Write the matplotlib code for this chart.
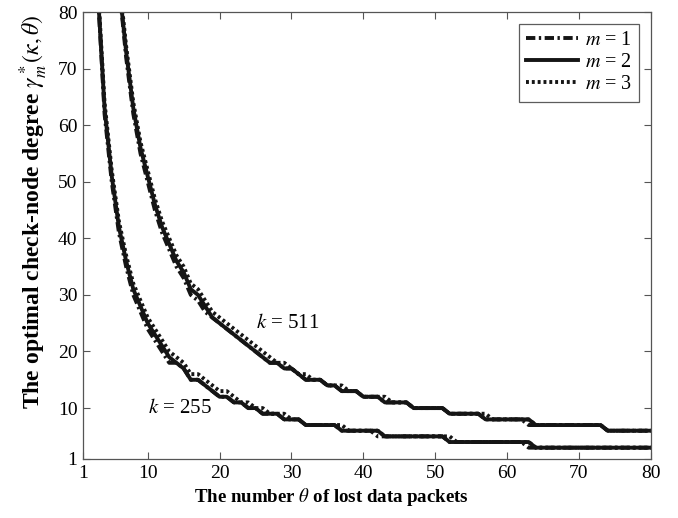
import matplotlib
matplotlib.use("Agg")
import matplotlib.pyplot as plt

plt.rcParams['font.family'] = ['Liberation Serif', 'DejaVu Serif']
plt.rcParams['mathtext.fontset'] = 'stix'

# number of lost packets
theta = list(range(1, 81))

# k = 255
g255_m1 = [255, 127, 85, 62, 50, 41, 35, 30, 27, 24,
           22, 20, 18, 18, 17, 15, 15, 14, 13, 12,
           12, 11, 11, 10, 10, 9, 9, 9, 8, 8,
           8, 7, 7, 7, 7, 7, 6, 6, 6, 6,
           6, 5, 5, 5, 5, 5, 5, 5, 5, 5,
           5, 4, 4, 4, 4, 4, 4, 4, 4, 4,
           4, 4, 3, 3, 3, 3, 3, 3, 3, 3,
           3, 3, 3, 3, 3, 3, 3, 3, 3, 3]
g255_m2 = [255, 127, 85, 63, 51, 42, 36, 31, 28, 25,
           23, 21, 19, 18, 17, 15, 15, 14, 13, 12,
           12, 11, 11, 10, 10, 9, 9, 9, 8, 8,
           8, 7, 7, 7, 7, 7, 6, 6, 6, 6,
           6, 6, 5, 5, 5, 5, 5, 5, 5, 5,
           5, 4, 4, 4, 4, 4, 4, 4, 4, 4,
           4, 4, 4, 3, 3, 3, 3, 3, 3, 3,
           3, 3, 3, 3, 3, 3, 3, 3, 3, 3]
g255_m3 = [255, 128, 86, 64, 52, 43, 37, 32, 29, 26,
           24, 22, 20, 19, 18, 16, 16, 15, 14, 13,
           13, 12, 11, 11, 10, 10, 9, 9, 9, 8,
           8, 7, 7, 7, 7, 7, 7, 6, 6, 6,
           6, 6, 5, 5, 5, 5, 5, 5, 5, 5,
           5, 5, 4, 4, 4, 4, 4, 4, 4, 4,
           4, 4, 4, 3, 3, 3, 3, 3, 3, 3,
           3, 3, 3, 3, 3, 3, 3, 3, 3, 3]

# k = 511
g511_m1 = [511, 255, 170, 127, 102, 85, 72, 62, 55, 50,
           45, 41, 38, 35, 33, 30, 29, 27, 26, 25,
           24, 23, 22, 21, 20, 19, 18, 18, 17, 17,
           16, 15, 15, 15, 14, 14, 13, 13, 13, 12,
           12, 12, 11, 11, 11, 11, 10, 10, 10, 10,
           10, 9, 9, 9, 9, 9, 8, 8, 8, 8,
           8, 8, 7, 7, 7, 7, 7, 7, 7, 7,
           7, 7, 7, 6, 6, 6, 6, 6, 6, 6]
g511_m2 = [511, 255, 170, 127, 102, 85, 73, 63, 56, 51,
           46, 42, 39, 36, 34, 31, 30, 28, 26, 25,
           24, 23, 22, 21, 20, 19, 18, 18, 17, 17,
           16, 15, 15, 15, 14, 14, 13, 13, 13, 12,
           12, 12, 11, 11, 11, 11, 10, 10, 10, 10,
           10, 9, 9, 9, 9, 9, 8, 8, 8, 8,
           8, 8, 8, 7, 7, 7, 7, 7, 7, 7,
           7, 7, 7, 6, 6, 6, 6, 6, 6, 6]
g511_m3 = [511, 256, 171, 128, 103, 86, 74, 64, 57, 52,
           47, 43, 40, 37, 35, 32, 31, 29, 27, 26,
           25, 24, 23, 22, 21, 20, 19, 18, 18, 17,
           16, 16, 15, 15, 14, 14, 14, 13, 13, 12,
           12, 12, 12, 11, 11, 11, 10, 10, 10, 10,
           10, 9, 9, 9, 9, 9, 9, 8, 8, 8,
           8, 8, 8, 7, 7, 7, 7, 7, 7, 7,
           7, 7, 7, 6, 6, 6, 6, 6, 6, 6]

styles = {'m1': (0, (2.4, 0.9, 0.6, 0.9)), 'm2': '-', 'm3': (0, (0.75, 0.75))}
lw = 2.8
ink = '#151515'

fig = plt.figure(figsize=(6.78, 5.18), dpi=100)
ax = fig.add_axes([0.1224, 0.1139, 0.8376, 0.8629])

ax.plot(theta, g255_m1, color=ink, lw=lw, ls=styles['m1'], label='$m$ = 1')
ax.plot(theta, g255_m2, color=ink, lw=lw, ls=styles['m2'], label='$m$ = 2')
ax.plot(theta, g255_m3, color=ink, lw=lw, ls=styles['m3'], label='$m$ = 3')
ax.plot(theta, g511_m1, color=ink, lw=lw, ls=styles['m1'])
ax.plot(theta, g511_m2, color=ink, lw=lw, ls=styles['m2'])
ax.plot(theta, g511_m3, color=ink, lw=lw, ls=styles['m3'])

ax.text(25, 25, '$k$ = 511', fontsize=15, va='center', ha='left')
ax.text(10, 10, '$k$ = 255', fontsize=15, va='center', ha='left')

ax.set_xlim(1, 80)
ax.set_ylim(1, 80)
ax.set_xticks([1, 10, 20, 30, 40, 50, 60, 70, 80])
ax.set_yticks([1, 10, 20, 30, 40, 50, 60, 70, 80])
ax.tick_params(direction='in', top=True, right=True, labelsize=14, length=5,
               width=0.8, color='#555555', pad=4)
for s in ax.spines.values():
    s.set_color('#555555')
    s.set_linewidth(0.9)

ax.set_xlabel(r'The number $\theta$ of lost data packets', fontsize=13.6,
              fontweight='bold')
ax.xaxis.set_label_coords(0.438, -0.06)
ax.set_ylabel(r'The optimal check-node degree $\gamma_m^*(\kappa,\theta)$',
              fontsize=17, fontweight='bold')
ax.yaxis.set_label_coords(-0.058, 0.553)

leg = ax.legend(loc='upper right', fontsize=14.5, handlelength=2.6,
                frameon=True, fancybox=False, edgecolor='#333333',
                borderpad=0.35, labelspacing=0.15, handletextpad=0.3,
                borderaxespad=0.6)
leg.get_frame().set_linewidth(0.9)

fig.savefig('out.png', dpi=100)
